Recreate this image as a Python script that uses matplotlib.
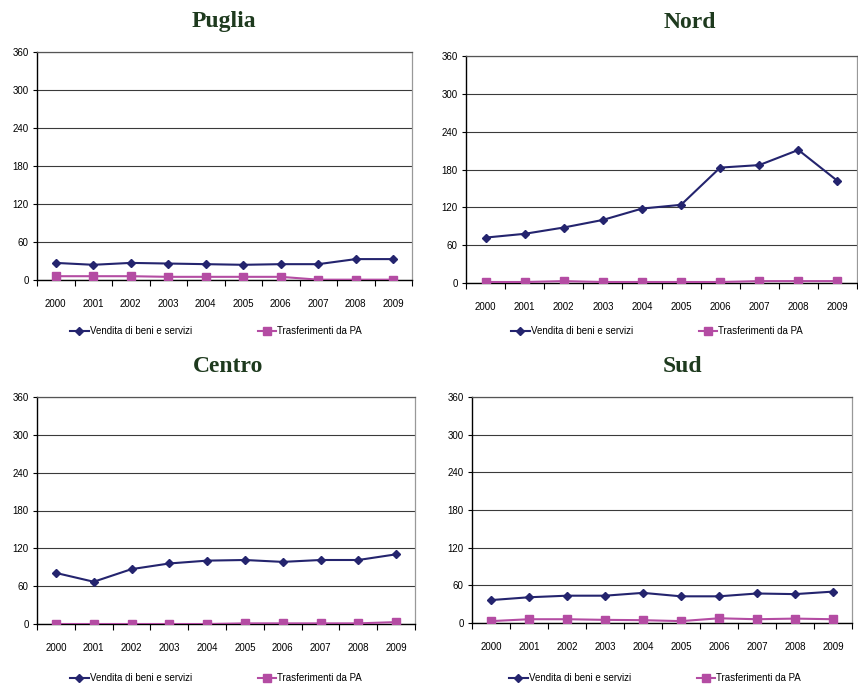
import matplotlib.pyplot as plt
from matplotlib.ticker import FixedLocator

anni = ['2000', '2001', '2002', '2003', '2004', '2005', '2006', '2007', '2008', '2009']

puglia_vendita = [27, 24, 27, 26, 25, 24, 25, 25, 33, 33]
puglia_trasf = [6, 6, 6, 5, 5, 5, 5, 0.5, 0.5, 0.5]

nord_vendita = [72, 78, 88, 100, 118, 124, 183, 187, 211, 162]
nord_trasf = [1.6, 1.6, 3, 1.6, 1.6, 1.6, 1.6, 3, 3, 3]

centro_vendita = [81, 67, 87, 96, 100.5, 101.5, 98.5, 101.5, 101.5, 110.5]
centro_trasf = [0, 0, 0, 0, 0, 1, 1, 1, 1, 3]

sud_vendita = [36.5, 41, 43.5, 43.5, 48, 42.5, 42.5, 47, 46, 50]
sud_trasf = [3, 6, 6, 5, 4.5, 3, 7.5, 6, 7, 6]

W, H = 858, 684
fig = plt.figure(figsize=(W / 100, H / 100), dpi=100)

BLU = '#24246e'
MAGENTA = '#b44ca3'
TITOLO = '#1e3a1e'

# (titolo, vendita, trasferimenti, box assi in px [x0, y0, x1, y1], centro titolo, centro legenda)
pannelli = [
    ('Puglia', puglia_vendita, puglia_trasf, (37, 52, 412, 280), (224, 22), (216, 331)),
    ('Nord', nord_vendita, nord_trasf, (466, 56, 857, 283), (690, 23), (657, 331)),
    ('Centro', centro_vendita, centro_trasf, (37, 397, 415, 624), (228, 367), (216, 678)),
    ('Sud', sud_vendita, sud_trasf, (472, 397, 852, 623), (683, 367), (655, 678)),
]

for titolo, vend, trasf, box, tpos, lpos in pannelli:
    x0, y0, x1, y1 = box
    ax = fig.add_axes([x0 / W, 1 - y1 / H, (x1 - x0) / W, (y1 - y0) / H])
    x = list(range(len(anni)))
    l1, = ax.plot(x, vend, color=BLU, lw=1.5, marker='D', ms=4.5,
                  markerfacecolor=BLU, markeredgecolor=BLU, zorder=4)
    l2, = ax.plot(x, trasf, color=MAGENTA, lw=1.5, marker='s', ms=6,
                  markerfacecolor=MAGENTA, markeredgecolor=MAGENTA, zorder=3)

    ax.set_xlim(-0.5, len(anni) - 0.5)
    ax.set_ylim(0, 360)
    ax.set_yticks(range(0, 361, 60))
    ax.set_xticks(x)
    ax.set_xticklabels(anni, fontsize=7, family='Liberation Sans')
    ax.xaxis.set_minor_locator(FixedLocator([i - 0.5 for i in range(len(anni) + 1)]))
    ax.tick_params(axis='x', which='major', length=0, pad=14)
    ax.tick_params(axis='x', which='minor', length=4, direction='out', width=0.8)
    ax.tick_params(axis='y', length=3, direction='out', width=0.8, pad=3)
    for lab in ax.get_yticklabels():
        lab.set_fontsize(7)
        lab.set_family('Liberation Sans')

    ax.grid(axis='y', color='#3a3a3a', lw=0.8)
    ax.set_axisbelow(True)
    ax.spines['left'].set_color('black')
    ax.spines['bottom'].set_color('black')
    ax.spines['left'].set_linewidth(1.0)
    ax.spines['bottom'].set_linewidth(1.0)
    ax.spines['top'].set_color('#555555')
    ax.spines['right'].set_color('#999999')
    ax.spines['top'].set_linewidth(0.9)
    ax.spines['right'].set_linewidth(0.9)

    fig.text(tpos[0] / W, 1 - tpos[1] / H, titolo, ha='center', va='center',
             fontsize=17, fontweight='bold', family='Liberation Serif', color=TITOLO)

    fig.legend([l1, l2], ['Vendita di beni e servizi', 'Trasferimenti da PA'],
               loc='center', bbox_to_anchor=(lpos[0] / W, 1 - lpos[1] / H),
               ncol=2, frameon=False, prop={'family': 'Liberation Sans', 'size': 7},
               handlelength=1.9, handletextpad=0.1, columnspacing=6.8, markerscale=0.9)

fig.savefig('out.png', dpi=100, facecolor='white')
